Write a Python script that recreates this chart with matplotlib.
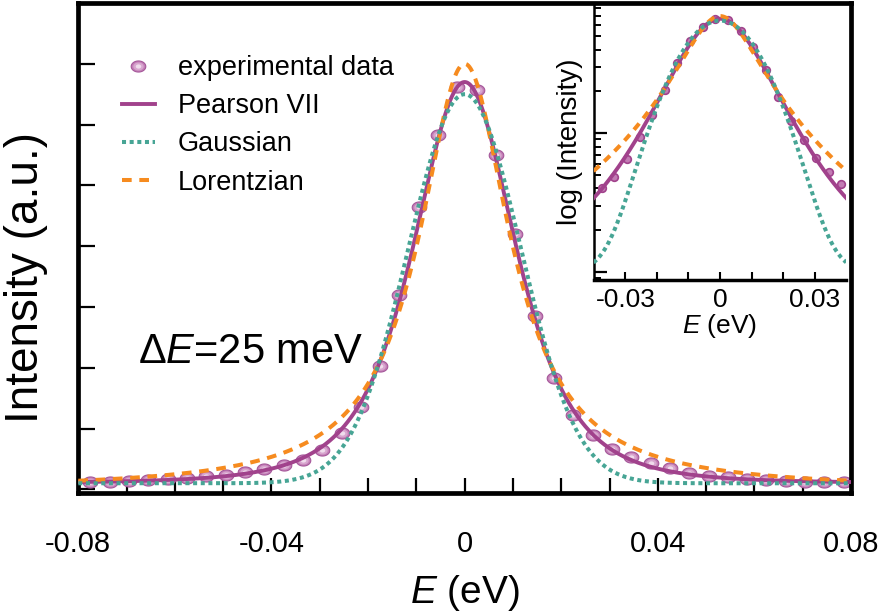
import numpy as np
import matplotlib.pyplot as plt
from matplotlib.path import Path
from matplotlib.ticker import LogLocator, NullFormatter

plt.rcParams['font.family'] = ['Liberation Sans', 'DejaVu Sans']
plt.rcParams['mathtext.fontset'] = 'custom'
plt.rcParams['mathtext.rm'] = 'Liberation Sans'
plt.rcParams['mathtext.it'] = 'Liberation Sans:italic'
plt.rcParams['axes.unicode_minus'] = False

# measured spectrum
energy = [-0.0775, -0.0735, -0.0695, -0.0655, -0.0615, -0.0575, -0.0535, -0.0495,
          -0.0455, -0.0415, -0.0375, -0.0335, -0.0295, -0.0255, -0.0215, -0.0175,
          -0.0135, -0.0095, -0.0055, -0.0015, 0.0025, 0.0065, 0.0105, 0.0145,
          0.0185, 0.0225, 0.0265, 0.0305, 0.0345, 0.0385, 0.0425, 0.0465,
          0.0505, 0.0545, 0.0585, 0.0625, 0.0665, 0.0705, 0.0745, 0.0785]
intensity = [0.125, 0.125, 0.142, 0.153, 0.175, 0.191, 0.214, 0.241,
             0.280, 0.329, 0.400, 0.483, 0.647, 0.932, 1.361, 2.036,
             3.201, 4.639, 5.825, 6.623, 6.562, 5.507, 4.206, 2.855,
             1.834, 1.229, 0.895, 0.664, 0.524, 0.428, 0.346, 0.273,
             0.224, 0.208, 0.170, 0.153, 0.142, 0.125, 0.125, 0.125]

# fitted line shapes
pv_amp, pv_fwhm, pv_shape, pv_base = 6.6, 0.025, 2.0, 0.1
ga_amp, ga_sigma, ga_base = 6.4, 0.0116, 0.1
lo_amp, lo_fwhm, lo_base = 7.0, 0.023, 0.0

xtick_labels = ['-0.08', '-0.04', '0', '0.04', '0.08']
inset_xtick_labels = ['-0.03', '0', '0.03']

purple = '#a1428c'
teal = '#47a595'
orange = '#f68b1f'


def pearson7(x, a, fwhm, m, b):
    return b + a / (1 + (2 * x / fwhm) ** 2 * (2 ** (1 / m) - 1)) ** m


def gaussian(x, a, sigma, b):
    return b + a * np.exp(-x ** 2 / (2 * sigma ** 2))


def lorentzian(x, a, fwhm, b):
    return b + a / (1 + (2 * x / fwhm) ** 2)


e = np.array(energy)
I = np.array(intensity)
e_fit = np.linspace(-0.08, 0.08, 1601)
pv = pearson7(e_fit, pv_amp, pv_fwhm, pv_shape, pv_base)
ga = gaussian(e_fit, ga_amp, ga_sigma, ga_base)
lo = lorentzian(e_fit, lo_amp, lo_fwhm, lo_base)

# slightly flattened circle for the data points
t = np.linspace(0, 2 * np.pi, 64)
ellipse = Path(np.column_stack([np.cos(t), 0.76 * np.sin(t)]), closed=True)

fig = plt.figure(figsize=(8.86, 6.12), dpi=100)
ax = fig.add_axes([78.3 / 886, 119 / 612, 772.7 / 886, 490 / 612])

p1, = ax.plot(e, I, ls='none', marker=ellipse, ms=10.5, mfc='#c480b7',
              mec='#a5579a', mew=0.8, zorder=2)
p2, = ax.plot(e, I, ls='none', marker=ellipse, ms=7.5, mfc='#d8a6cf',
              mec='none', zorder=2)
p3, = ax.plot(e, I, ls='none', marker=ellipse, ms=4, mfc='#f0dcec',
              mec='none', zorder=2)
l_pv, = ax.plot(e_fit, pv, color=purple, lw=2.8, zorder=3)
l_lo, = ax.plot(e_fit, lo, color=orange, lw=2.9, dashes=(2.4, 1.9), zorder=4)
l_ga, = ax.plot(e_fit, ga, color=teal, lw=2.9, dashes=(1.0, 0.9), zorder=5)

ax.set_xlim(-0.08, 0.08)
ax.set_ylim(-0.06, 8.0)
ax.set_xticks(np.linspace(-0.08, 0.08, 17))
ax.set_xticklabels([xtick_labels[i // 4] if i % 4 == 0 else '' for i in range(17)])
ax.set_yticks(range(8))
ax.set_yticklabels([])
ax.tick_params(axis='x', direction='in', length=11, width=1.6, labelsize=21, pad=27)
ax.tick_params(axis='y', direction='in', length=12, width=1.6)
for s in ax.spines.values():
    s.set_linewidth(3.4)

ax.set_xlabel('$E$ (eV)', fontsize=28)
ax.xaxis.set_label_coords(0.5, -0.163)
ax.xaxis.label.set_va('top')
ax.set_ylabel('Intensity (a.u.)', fontsize=33)
ax.yaxis.set_label_coords(-0.039, 0.44)

fig.text(138 / 886, 1 - 352 / 612, 'Δ$E$=25 meV', fontsize=30, va='center', ha='left')

ax.legend([(p1, p2, p3), l_pv, l_ga, l_lo],
          ['experimental data', 'Pearson VII', 'Gaussian', 'Lorentzian'],
          loc='upper left', bbox_to_anchor=(122 / 886, 1 - 55 / 612),
          bbox_transform=fig.transFigure, frameon=False, fontsize=19.5,
          handlelength=1.2, handletextpad=0.85, labelspacing=0.45,
          borderpad=0, borderaxespad=0, numpoints=1)

# log-scale inset
axin = fig.add_axes([593.8 / 886, 332 / 612, 252.4 / 886, 277 / 612])
axin.patch.set_visible(False)
axin.set_zorder(5)
inner = np.abs(e) <= 0.04
axin.plot(e_fit, pv, color=purple, lw=2.8, zorder=3)
axin.plot(e[inner], I[inner], ls='none', marker='o', ms=5.5, mfc='#c27cb4',
          mec=purple, mew=1.2, zorder=2)
axin.plot(e_fit, lo, color=orange, lw=2.9, dashes=(2.0, 1.6), zorder=4)
axin.plot(e_fit, ga, color=teal, lw=2.9, dashes=(1.0, 0.9), zorder=5)
axin.set_yscale('log')
axin.set_xlim(-0.04, 0.04)
axin.set_ylim(0.087, 8.7)
axin.set_xticks(np.linspace(-0.03, 0.03, 7))
axin.set_xticklabels([inset_xtick_labels[i // 3] if i % 3 == 0 else '' for i in range(7)])
axin.yaxis.set_major_locator(LogLocator(base=10))
axin.yaxis.set_minor_locator(LogLocator(base=10, subs=np.arange(2, 10)))
axin.yaxis.set_major_formatter(NullFormatter())
axin.yaxis.set_minor_formatter(NullFormatter())
axin.tick_params(axis='x', direction='in', length=6, width=1.5, labelsize=19, pad=6)
axin.tick_params(axis='y', which='major', direction='in', length=9, width=1.6)
axin.tick_params(axis='y', which='minor', direction='in', length=5, width=1.4)
axin.spines['top'].set_visible(False)
axin.spines['right'].set_visible(False)
axin.spines['left'].set_linewidth(1.8)
axin.spines['bottom'].set_linewidth(2.5)
axin.set_xlabel('$E$ (eV)', fontsize=19, labelpad=0)
axin.set_ylabel('log (Intensity)', fontsize=20)
axin.yaxis.set_label_coords(-0.043, 0.5)

fig.savefig('out.png', dpi=100)
